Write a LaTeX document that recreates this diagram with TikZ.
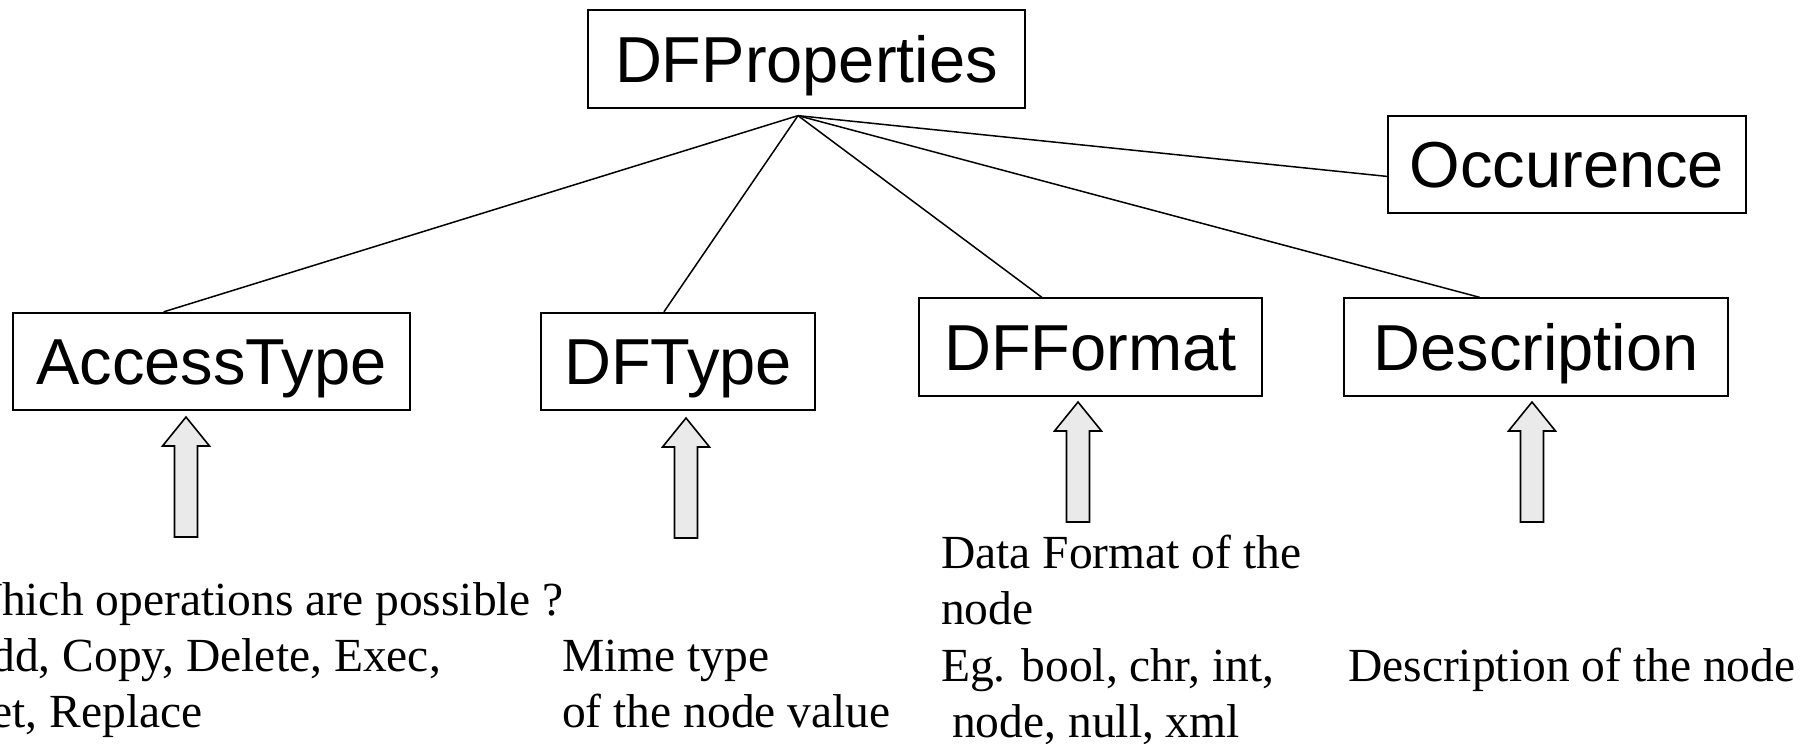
\documentclass[tikz,border=0pt]{standalone}
\usepackage{fontspec}
\setmainfont{Liberation Serif}
\newfontfamily\boxfont{Liberation Sans}
\usetikzlibrary{calc}
\definecolor{arrowgray}{RGB}{234,234,234}

\tikzset{
  propbox/.style={draw=black, line width=1.8pt, inner sep=0pt,
    text height=46.5pt, text depth=0pt, minimum height=97.5pt,
    font=\boxfont\fontsize{65}{70}\selectfont},
  link/.style={line width=1.5pt, draw=black},
  note/.style={anchor=base west, inner sep=0pt,
    font=\fontsize{47.5}{56}\selectfont},
  uparrow/.pic={
    \draw[line width=1.6pt, fill=arrowgray, line join=miter]
      (0,0) -- (23.5,29) -- (11.5,29) -- (11.5,120) -- (-11.5,120)
      -- (-11.5,29) -- (-23.5,29) -- cycle;
  }
}

\begin{document}
\begin{tikzpicture}[x=1pt, y=-1pt]
\useasboundingbox (0,0) rectangle (1810,744);
\clip (0,0) rectangle (1810,744);

% property boxes
\node[propbox, minimum width=437pt] (props) at (806.5,59)  {DFProperties};
\node[propbox, minimum width=358pt] (occ)   at (1567,164.5) {Occurence};
\node[propbox, minimum width=397pt] (acc)   at (211.5,361.5) {AccessType};
\node[propbox, minimum width=274pt] (typ)   at (678,361.5) {DFType};
\node[propbox, minimum width=343pt] (fmt)   at (1090.5,347) {DFFormat};
\node[propbox, minimum width=384pt] (desc)  at (1536,347) {Description};

% tree links, all meeting just below the root box
\coordinate (hub) at ($(props.south)+(-8.5,7)$);
\draw[link] (hub) -- ($(acc.north west)!0.38!(acc.north east)$);
\draw[link] (hub) -- ($(typ.north west)!0.449!(typ.north east)$);
\draw[link] (hub) -- ($(fmt.north west)!0.359!(fmt.north east)$);
\draw[link] (hub) -- ($(desc.north west)!0.354!(desc.north east)$);
\draw[link] (hub) -- ($(occ.north west)!0.62!(occ.south west)$);

% block arrows pointing up at the boxes
\pic at (186,417)  {uparrow};
\pic at (686,418)  {uparrow};
\pic at (1078,402) {uparrow};
\pic at (1532,402) {uparrow};

% explanations
\node[note] (accA) at (-43,615) {Which operations are possible ?};
\node[note] (accB) at (-43,671) {Add, Copy, Delete, Exec,};
\node[note] (accC) at (-43,727) {Get, Replace};

\node[note] (typA) at (562,671) {Mime type};
\node[note] (typB) at (562,727) {of the node value};

\node[note] (fmtA) at (941,568) {Data Format of the};
\node[note] (fmtB) at (941,624) {node};
\node[note] (fmtC) at (941,681) {Eg. bool, chr, int,};
\node[note] (fmtD) at (952,737) {node, null, xml};

\node[note] (descA) at (1348,681) {Description of the node};
\end{tikzpicture}
\end{document}
